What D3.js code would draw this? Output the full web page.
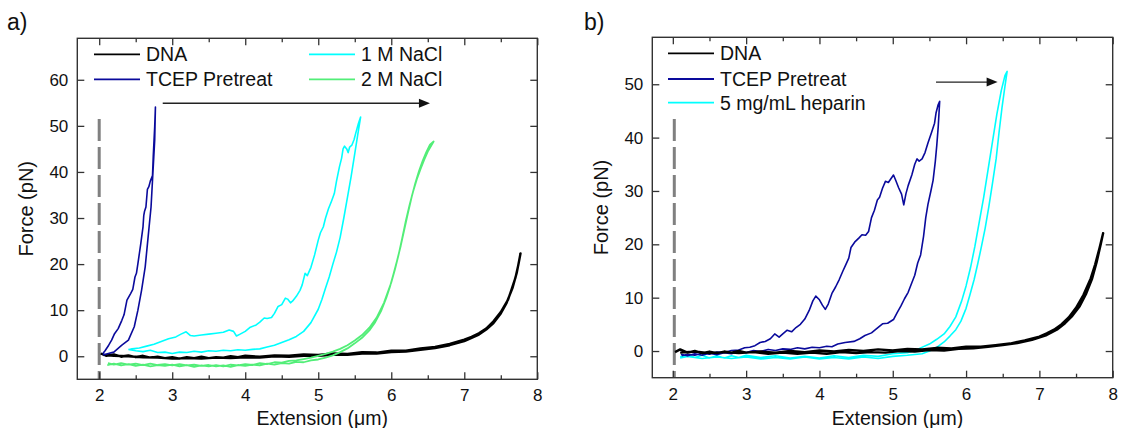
<!DOCTYPE html>
<html>
<head>
<meta charset="utf-8">
<script src="https://cdn.jsdelivr.net/npm/d3@7"></script>
<style>
  html, body { margin: 0; padding: 0; background: #fff; }
  svg { display: block; font-family: "Liberation Sans", Arial, sans-serif; }
</style>
</head>
<body>
<svg id="chart" width="1122" height="428"></svg>
<script>
// ---------------- DATA ----------------
const xTicks = [2, 3, 4, 5, 6, 7, 8];
const xMinorTicks = [2.5, 3.5, 4.5, 5.5, 6.5, 7.5];
const yTicksA = [0, 10, 20, 30, 40, 50, 60];
const yTicksB = [0, 10, 20, 30, 40, 50];
const xDomainA = [1.7, 8];
const yDomainA = [-5, 69];
const xDomainB = [1.72, 8];
const yDomainB = [-5, 58.8];

const legendA = ["DNA", "TCEP Pretreat", "1 M NaCl", "2 M NaCl"];
const legendB = ["DNA", "TCEP Pretreat", "5 mg/mL heparin"];

// panel a: extension (um), force (pN) — full stretch/relax loops
const aDNA = [[2.02,0.6],[2.1,0.1],[2.2,0.4],[2.3,-0.1],[2.4,0.2],[2.5,-0.2],[2.6,0.1],[2.7,-0.3],[2.8,-0.1],[2.9,-0.4],[3.0,-0.2],[3.1,-0.5],[3.2,-0.2],[3.3,-0.4],[3.4,-0.1],[3.5,-0.4],[3.6,-0.2],[3.7,-0.3],[3.8,0.0],[3.9,-0.2],[4.0,0.1],[4.2,-0.1],[4.4,0.2],[4.6,0.1],[4.8,0.4],[5.0,0.3],[5.2,0.6],[5.4,0.5],[5.6,0.9],[5.8,0.8],[6.0,1.2],[6.2,1.2],[6.4,1.7],[6.6,2.0],[6.8,2.7],[7.0,3.6],[7.1,4.2],[7.2,5.0],[7.3,6.0],[7.4,7.6],[7.5,9.6],[7.6,12.3],[7.65,14.6],[7.7,17.0],[7.74,19.8],[7.77,22.3],
  [7.76,21.5],[7.72,18.2],[7.66,14.8],[7.58,11.6],[7.5,9.3],[7.4,7.2],[7.3,5.8],[7.2,4.7],[7.0,3.3],[6.8,2.4],[6.6,1.8],[6.4,1.4],[6.2,1.0],[6.0,0.9],[5.8,0.6],[5.6,0.6],[5.4,0.3],[5.2,0.3],[5.0,0.1],[4.8,0.1],[4.6,-0.1],[4.4,0.0],[4.2,-0.3],[4.0,-0.2],[3.8,-0.4],[3.6,-0.3],[3.4,-0.5],[3.2,-0.4],[3.0,-0.5],[2.8,-0.3],[2.6,-0.2],[2.4,0.0],[2.2,0.1],[2.05,0.3]];

const aTCEP = [[2.05,0.3],[2.1,0.5],[2.2,0.9],[2.31,2.4],[2.4,3.5],[2.48,6.4],[2.53,10],[2.58,14.3],[2.63,19.4],[2.67,25.9],[2.71,32.4],[2.73,38.2],[2.76,46.9],[2.77,54.1],
  [2.76,49.8],[2.74,43.3],[2.73,39.2],[2.70,38.0],[2.68,36.8],[2.66,36.2],[2.64,32.4],[2.62,31.4],[2.61,30.5],[2.60,28.1],[2.57,24.5],[2.55,22.3],[2.53,20.1],[2.51,18.0],[2.49,17.2],[2.46,14.5],[2.43,13.6],[2.38,12.2],[2.34,9.0],[2.31,7.8],[2.26,6.0],[2.21,4.9],[2.17,3.5],[2.13,2.4],[2.08,1.2],[2.05,0.6]];

const aNaCl1 = [[2.40,1.5],[2.5,1.2],[2.6,1.0],[2.7,1.3],[2.8,0.8],[2.9,0.9],[3.0,0.6],[3.1,0.9],[3.2,0.8],[3.3,1.1],[3.4,0.9],[3.5,1.2],[3.6,1.1],[3.7,1.3],[3.8,1.2],[3.9,1.4],[4.0,1.3],[4.1,1.5],[4.2,1.6],[4.3,2.0],[4.4,2.4],[4.5,3.0],[4.6,3.6],[4.7,4.3],[4.8,5.4],[4.9,7.3],[5.0,10.2],[5.05,12.3],[5.1,14.8],[5.15,17.2],[5.2,20.0],[5.25,22.6],[5.3,25.8],[5.35,30.0],[5.4,34.5],[5.45,39.0],[5.5,44.0],[5.54,48.0],[5.58,51.9],
  [5.55,50.5],[5.52,48.8],[5.49,47.0],[5.46,45.8],[5.43,45.4],[5.41,44.2],[5.39,45.0],[5.36,45.6],[5.34,45.0],[5.32,43.0],[5.29,41.1],[5.25,38.0],[5.22,35.3],[5.18,33.6],[5.14,32.0],[5.10,30.0],[5.07,28.1],[5.03,26.8],[5.00,25.2],[4.95,22.0],[4.90,19.3],[4.85,17.5],[4.82,18.0],[4.78,15.5],[4.75,14.3],[4.70,13.0],[4.65,12.0],[4.62,11.6],[4.58,12.4],[4.55,12.6],[4.50,11.2],[4.45,10.8],[4.40,9.3],[4.36,8.4],[4.30,8.2],[4.26,8.3],[4.20,7.4],[4.15,6.8],[4.07,6.3],[4.0,5.4],[3.93,4.8],[3.88,4.4],[3.84,5.4],[3.78,5.7],[3.7,5.2],[3.6,5.0],[3.5,4.8],[3.4,4.6],[3.3,4.4],[3.25,4.5],[3.19,5.3],[3.12,4.8],[3.05,4.2],[2.95,3.8],[2.85,3.2],[2.75,2.6],[2.65,2.2],[2.55,1.8],[2.45,1.6],[2.40,1.4]];

const aNaCl2 = [[2.11,-1.9],[2.2,-1.6],[2.3,-2.0],[2.4,-1.7],[2.5,-2.1],[2.6,-1.8],[2.7,-2.2],[2.8,-1.9],[2.9,-2.1],[3.0,-1.8],[3.1,-2.2],[3.2,-1.9],[3.3,-2.3],[3.4,-2.0],[3.5,-2.2],[3.6,-1.9],[3.7,-2.2],[3.8,-1.8],[3.9,-2.0],[4.0,-1.7],[4.1,-1.9],[4.2,-1.5],[4.3,-1.7],[4.4,-1.3],[4.5,-1.4],[4.6,-1.0],[4.7,-0.9],[4.8,-0.6],[4.9,-0.3],[5.0,0.1],[5.1,0.5],[5.2,1.0],[5.3,1.6],[5.4,2.4],[5.5,3.4],[5.6,4.6],[5.7,6.2],[5.8,8.4],[5.9,11.6],[6.0,16.0],[6.05,18.8],[6.1,22.0],[6.15,25.6],[6.2,29.4],[6.25,32.8],[6.3,35.8],[6.35,38.4],[6.4,40.6],[6.45,42.6],[6.5,44.4],[6.55,45.8],[6.58,46.6],
  [6.53,45.9],[6.48,44.3],[6.43,42.4],[6.38,40.2],[6.33,37.6],[6.28,34.6],[6.23,31.2],[6.18,27.6],[6.13,24.0],[6.08,20.8],[6.03,17.8],[5.98,15.0],[5.93,12.6],[5.86,9.8],[5.78,7.4],[5.7,5.6],[5.6,4.0],[5.5,2.8],[5.4,1.7],[5.3,0.9],[5.2,0.2],[5.1,-0.3],[5.0,-0.7],[4.9,-0.9],[4.8,-1.3],[4.7,-1.2],[4.6,-1.6],[4.5,-1.5],[4.4,-1.8],[4.3,-1.6],[4.2,-2.0],[4.1,-1.8],[4.0,-2.1],[3.9,-1.9],[3.8,-2.3],[3.7,-2.0],[3.6,-2.2],[3.5,-1.9],[3.4,-2.1],[3.3,-1.8],[3.2,-2.0],[3.1,-1.7],[3.0,-2.0],[2.9,-1.7],[2.8,-1.9],[2.7,-1.6],[2.6,-1.9],[2.5,-1.6],[2.4,-1.8],[2.3,-1.5],[2.2,-1.8],[2.12,-1.5]];

// panel b
const bDNA = [[2.03,-0.2],[2.1,0.3],[2.2,-0.3],[2.3,0.0],[2.4,-0.4],[2.5,-0.1],[2.6,-0.4],[2.7,-0.1],[2.8,-0.3],[2.9,0.0],[3.0,-0.3],[3.2,-0.1],[3.4,-0.3],[3.6,0.0],[3.8,-0.2],[4.0,0.1],[4.2,-0.1],[4.4,0.2],[4.6,0.0],[4.8,0.3],[5.0,0.1],[5.2,0.4],[5.4,0.3],[5.6,0.6],[5.8,0.5],[6.0,0.8],[6.2,0.8],[6.4,1.1],[6.6,1.4],[6.8,2.0],[7.0,2.7],[7.1,3.3],[7.2,4.0],[7.3,5.0],[7.4,6.3],[7.5,8.1],[7.6,10.5],[7.7,13.6],[7.76,16.2],[7.82,19.3],[7.87,22.1],
  [7.84,20.2],[7.78,16.6],[7.72,13.6],[7.64,10.8],[7.55,8.4],[7.45,6.6],[7.35,5.2],[7.25,4.1],[7.1,3.0],[6.9,2.1],[6.7,1.5],[6.5,1.1],[6.3,0.8],[6.1,0.5],[5.9,0.4],[5.7,0.1],[5.5,0.2],[5.3,-0.1],[5.1,0.0],[4.9,-0.3],[4.7,-0.2],[4.5,-0.4],[4.3,-0.2],[4.1,-0.5],[3.9,-0.3],[3.7,-0.5],[3.5,-0.3],[3.3,-0.5],[3.1,-0.2],[2.9,-0.4],[2.7,-0.2],[2.5,-0.4],[2.3,-0.1],[2.1,-0.3]];

const bTCEP = [[2.11,-0.6],[2.2,-0.9],[2.3,-0.5],[2.4,-0.8],[2.5,-0.4],[2.6,-0.7],[2.7,-0.3],[2.8,-0.5],[2.9,-0.1],[3.0,-0.3],[3.1,0.1],[3.2,-0.1],[3.3,0.3],[3.4,0.1],[3.5,0.4],[3.6,0.3],[3.7,0.6],[3.8,0.4],[3.9,0.7],[4.0,0.6],[4.1,0.9],[4.17,0.8],[4.25,1.3],[4.35,1.6],[4.47,1.8],[4.55,2.3],[4.62,2.9],[4.71,3.4],[4.78,4.2],[4.86,5.1],[4.93,5.2],[5.01,5.9],[5.06,7.2],[5.11,8.4],[5.16,9.8],[5.21,11.0],[5.26,12.8],[5.30,14.2],[5.34,16.5],[5.38,18.0],[5.42,21.5],[5.45,25.0],[5.48,27.5],[5.52,30.0],[5.55,32.0],[5.58,35.5],[5.60,38.5],[5.62,42.0],[5.64,46.8],
  [5.62,46.2],[5.59,44.6],[5.57,42.7],[5.53,41.0],[5.48,39.0],[5.44,37.2],[5.40,36.0],[5.36,35.6],[5.33,36.0],[5.30,35.0],[5.26,33.0],[5.21,31.0],[5.18,29.5],[5.15,27.4],[5.12,29.4],[5.08,30.6],[5.04,32.0],[5.01,33.0],[4.97,32.2],[4.94,31.6],[4.90,31.8],[4.86,30.5],[4.82,28.8],[4.79,28.3],[4.75,26.4],[4.71,25.0],[4.67,22.4],[4.63,21.7],[4.58,21.8],[4.54,21.2],[4.48,20.4],[4.43,19.4],[4.40,17.4],[4.36,16.2],[4.32,15.0],[4.27,13.4],[4.22,12.0],[4.17,10.8],[4.12,8.8],[4.08,7.8],[4.04,8.6],[4.00,9.6],[3.95,10.3],[3.91,9.4],[3.86,7.6],[3.80,6.0],[3.74,5.0],[3.68,4.4],[3.62,3.6],[3.56,3.9],[3.50,3.2],[3.45,2.6],[3.39,3.2],[3.33,2.3],[3.26,1.8],[3.19,1.6],[3.12,1.0],[3.05,0.7],[2.98,0.6],[2.9,0.2],[2.8,0.1],[2.7,-0.3],[2.6,-0.2],[2.5,-0.6],[2.4,-0.4],[2.3,-0.8],[2.2,-0.6],[2.12,-0.9]];

const bHeparin = [[2.1,-1.1],[2.2,-0.7],[2.3,-1.2],[2.4,-0.8],[2.5,-1.3],[2.6,-0.9],[2.7,-1.3],[2.8,-0.9],[2.9,-1.2],[3.0,-0.8],[3.2,-1.2],[3.4,-0.9],[3.6,-1.3],[3.8,-1.0],[4.0,-1.3],[4.2,-0.9],[4.4,-1.2],[4.6,-0.8],[4.8,-1.0],[5.0,-0.5],[5.2,-0.3],[5.35,0.4],[5.5,1.3],[5.6,2.2],[5.7,3.2],[5.78,4.6],[5.86,6.4],[5.94,9.4],[6.0,12.2],[6.06,15.6],[6.12,19.6],[6.18,24.2],[6.24,28.8],[6.3,34.0],[6.36,39.2],[6.42,44.4],[6.48,48.8],[6.53,51.6],[6.56,52.4],
  [6.53,49.6],[6.49,45.6],[6.45,41.0],[6.41,36.0],[6.36,31.4],[6.31,27.0],[6.26,23.0],[6.21,19.6],[6.16,16.4],[6.11,13.4],[6.05,10.4],[6.0,8.0],[5.93,5.6],[5.86,4.0],[5.78,2.8],[5.7,1.7],[5.6,0.7],[5.5,0.0],[5.4,-0.5],[5.2,-0.8],[5.0,-1.0],[4.8,-1.4],[4.6,-1.1],[4.4,-1.5],[4.2,-1.2],[4.0,-1.5],[3.8,-1.1],[3.6,-1.5],[3.4,-1.2],[3.2,-1.5],[3.0,-1.1],[2.8,-1.4],[2.6,-1.1],[2.4,-1.4],[2.2,-1.0],[2.1,-1.3]];

// reference markers: dashed starting-length line [x, yTop] and arrows [x0, x1, y]
const dashA = [2.0, 51.5];
const dashB = [2.02, 43.5];
const arrowA = [2.87, 6.53, 54.9];
const arrowB = [5.59, 6.43, 50.4];

// ---------------- DRAWING ----------------
const COL = { dna: "#000000", tcep: "#0a0a9c", cyan: "#00ffff", green: "#52ee78", gray: "#808080", axis: "#333333" };
const svg = d3.select("#chart");
const FONT = "'Liberation Sans', Arial, sans-serif";

function panel(cfg) {
  const x = d3.scaleLinear().domain(cfg.xDomain).range([cfg.left, cfg.right]);
  const y = d3.scaleLinear().domain(cfg.yDomain).range([cfg.bottom, cfg.top]);
  const g = svg.append("g");

  const line = d3.line().x(d => x(d[0])).y(d => y(d[1]));
  g.append("line")
    .attr("x1", x(cfg.dash[0])).attr("x2", x(cfg.dash[0]))
    .attr("y1", y(cfg.dash[1])).attr("y2", cfg.bottom)
    .attr("stroke", COL.gray).attr("stroke-width", 3)
    .attr("stroke-dasharray", "22,6");
  cfg.series.forEach(s => {
    g.append("path").datum(s.data)
      .attr("d", line).attr("fill", "none")
      .attr("stroke", s.color).attr("stroke-width", s.width || 1.6)
      .attr("stroke-linejoin", "round");
  });

  const ax0 = x(cfg.arrow[0]), ax1 = x(cfg.arrow[1]), ay = y(cfg.arrow[2]);
  g.append("line").attr("x1", ax0).attr("x2", ax1 - 8).attr("y1", ay).attr("y2", ay)
    .attr("stroke", "#222").attr("stroke-width", 1.4);
  g.append("path").attr("d", `M${ax1},${ay} L${ax1 - 11},${ay - 4.5} L${ax1 - 11},${ay + 4.5} Z`).attr("fill", "#111");

  g.append("rect").attr("x", cfg.left).attr("y", cfg.top)
    .attr("width", cfg.right - cfg.left).attr("height", cfg.bottom - cfg.top)
    .attr("fill", "none").attr("stroke", COL.axis).attr("stroke-width", 1.4);

  function styleAxis(sel, labels) {
    sel.select(".domain").remove();
    sel.selectAll(".tick line").attr("stroke", COL.axis).attr("stroke-width", 1.3);
    sel.selectAll(".tick text").attr("fill", "#111").style("font-size", "17px").style("font-family", FONT);
    if (!labels) sel.selectAll(".tick text").remove();
  }
  styleAxis(g.append("g").attr("transform", `translate(0,${cfg.bottom})`)
    .call(d3.axisBottom(x).tickValues(xTicks).tickFormat(d3.format("d")).tickSize(-7).tickPadding(10)), true);
  styleAxis(g.append("g").attr("transform", `translate(0,${cfg.bottom})`)
    .call(d3.axisBottom(x).tickValues(xMinorTicks).tickFormat("").tickSize(-4)), false);
  styleAxis(g.append("g").attr("transform", `translate(0,${cfg.top})`)
    .call(d3.axisTop(x).tickValues(xTicks).tickSize(-7)), false);
  styleAxis(g.append("g").attr("transform", `translate(0,${cfg.top})`)
    .call(d3.axisTop(x).tickValues(xMinorTicks).tickSize(-4)), false);
  styleAxis(g.append("g").attr("transform", `translate(${cfg.left},0)`)
    .call(d3.axisLeft(y).tickValues(cfg.yTicks).tickFormat(d3.format("d")).tickSize(-7).tickPadding(9)), true);
  styleAxis(g.append("g").attr("transform", `translate(${cfg.right},0)`)
    .call(d3.axisRight(y).tickValues(cfg.yTicks).tickSize(-7)), false);

  g.append("text").attr("x", (cfg.left + cfg.right) / 2 + 15).attr("y", 424.5)
    .attr("text-anchor", "middle").style("font-size", "19.5px").style("font-family", FONT).attr("fill", "#111")
    .text("Extension (\u03bcm)");
  g.append("text").attr("transform", `translate(${cfg.left - 44},${(cfg.top + cfg.bottom) / 2}) rotate(-90)`)
    .attr("text-anchor", "middle").style("font-size", "20px").style("font-family", FONT).attr("fill", "#111")
    .text("Force (pN)");
  g.append("text").attr("x", cfg.labelX).attr("y", 30)
    .style("font-size", "23px").style("font-family", FONT).attr("fill", "#111").text(cfg.label);

  cfg.legend.forEach(l => {
    g.append("line").attr("x1", l.x).attr("x2", l.x + 46).attr("y1", l.y).attr("y2", l.y)
      .attr("stroke", l.color).attr("stroke-width", 1.8);
    g.append("text").attr("x", l.x + 52).attr("y", l.y + 7)
      .style("font-size", "19.5px").style("font-family", FONT).attr("fill", "#111").text(l.name);
  });
}

panel({
  left: 77.3, right: 537.3, top: 38.3, bottom: 379.3,
  xDomain: xDomainA, yDomain: yDomainA, yTicks: yTicksA,
  dash: dashA, arrow: arrowA, label: "a)", labelX: 7,
  series: [
    { data: aDNA, color: COL.dna, width: 2.4 },
    { data: aTCEP, color: COL.tcep },
    { data: aNaCl1, color: COL.cyan },
    { data: aNaCl2, color: COL.green, width: 1.8 }
  ],
  legend: [
    { name: legendA[0], color: COL.dna, x: 94, y: 54.3 },
    { name: legendA[1], color: COL.tcep, x: 94, y: 79.3 },
    { name: legendA[2], color: COL.cyan, x: 309, y: 54.3 },
    { name: legendA[3], color: COL.green, x: 309, y: 79.3 }
  ]
});

panel({
  left: 652.3, right: 1112.7, top: 37.3, bottom: 377.7,
  xDomain: xDomainB, yDomain: yDomainB, yTicks: yTicksB,
  dash: dashB, arrow: arrowB, label: "b)", labelX: 584,
  series: [
    { data: bHeparin, color: COL.cyan },
    { data: bTCEP, color: COL.tcep },
    { data: bDNA, color: COL.dna, width: 2.4 }
  ],
  legend: [
    { name: legendB[0], color: COL.dna, x: 668, y: 53.3 },
    { name: legendB[1], color: COL.tcep, x: 668, y: 79 },
    { name: legendB[2], color: COL.cyan, x: 668, y: 102.7 }
  ]
});
</script>
</body>
</html>
